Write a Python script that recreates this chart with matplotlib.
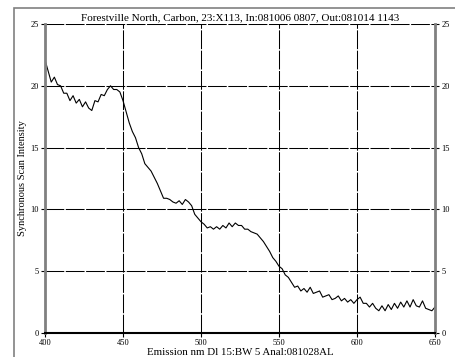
import matplotlib
matplotlib.use("Agg")
import matplotlib.pyplot as plt
from matplotlib.patches import Rectangle

wavelength = list(range(400, 652, 2))
intensity = [
    22.1, 21.2, 20.3, 20.7, 20.1, 20.0, 19.4, 19.4, 18.8, 19.2,
    18.6, 18.9, 18.3, 18.7, 18.2, 18.0, 18.8, 18.7, 19.3, 19.2,
    19.7, 20.0, 19.7, 19.7, 19.5, 18.8, 17.9, 17.0, 16.3, 15.8,
    15.0, 14.5, 13.7, 13.4, 13.1, 12.6, 12.1, 11.5, 10.9, 10.9,
    10.8, 10.6, 10.5, 10.7, 10.4, 10.8, 10.6, 10.3, 9.6, 9.3,
    9.0, 8.8, 8.5, 8.6, 8.4, 8.6, 8.4, 8.7, 8.5, 8.9,
    8.6, 8.9, 8.7, 8.7, 8.4, 8.4, 8.2, 8.1, 8.0, 7.7,
    7.4, 7.0, 6.6, 6.1, 5.8, 5.4, 5.2, 4.7, 4.5, 4.1,
    3.7, 3.8, 3.4, 3.6, 3.3, 3.7, 3.2, 3.3, 3.4, 2.9,
    3.0, 3.1, 2.7, 2.8, 3.0, 2.6, 2.8, 2.5, 2.7, 2.4,
    2.7, 2.9, 2.4, 2.4, 2.1, 2.4, 2.0, 1.8, 2.2, 1.8,
    2.3, 1.9, 2.4, 2.0, 2.5, 2.1, 2.6, 2.1, 2.7, 2.2,
    2.1, 2.6, 2.0, 1.9, 1.8, 2.1,
]
x_ticks = [400, 450, 500, 550, 600, 650]
y_ticks = [0, 5, 10, 15, 20, 25]

title = "Forestville North, Carbon, 23:X113, In:081006 0807, Out:081014 1143"
xlabel = "Emission nm Dl 15:BW 5 Anal:081028AL"
ylabel = "Synchronous Scan Intensity"

plt.rcParams['font.family'] = ['Liberation Serif', 'DejaVu Serif']

W, H = 456, 357
fig = plt.figure(figsize=(W / 100, H / 100), dpi=100)
fig.patch.set_facecolor('white')

# outer frame
fig.add_artist(Rectangle((14 / W, -0.1), 1.2, (357 - 8) / H + 0.1,
                         transform=fig.transFigure, fill=False,
                         edgecolor='#808080', linewidth=1.2))

ax = fig.add_axes([45 / W, (357 - 333) / H, (435 - 45) / W, (333 - 24) / H])
ax.plot(wavelength, intensity, color='black', linewidth=0.8)
ax.set_xlim(400, 650)
ax.set_ylim(0, 25)
ax.set_xticks(x_ticks)
ax.set_yticks(y_ticks)
ax.grid(True, color='black', linewidth=0.75, linestyle=(0, (18, 1.5)))

ax.spines['top'].set_visible(False)
for s in ['left', 'right']:
    ax.spines[s].set_color('#808080')
    ax.spines[s].set_linewidth(2)
ax.spines['bottom'].set_color('black')
ax.spines['bottom'].set_linewidth(1.5)

ax.tick_params(axis='both', labelsize=6, length=3, width=0.8, pad=1.5,
               direction='out')
ax.tick_params(axis='y', right=True, labelright=True)

ax.set_title(title, fontsize=8, pad=2.5)
ax.set_xlabel(xlabel, fontsize=7.8, labelpad=0.5)
ax.set_ylabel(ylabel, fontsize=7.5, labelpad=2)

fig.savefig("out.png", dpi=100)
